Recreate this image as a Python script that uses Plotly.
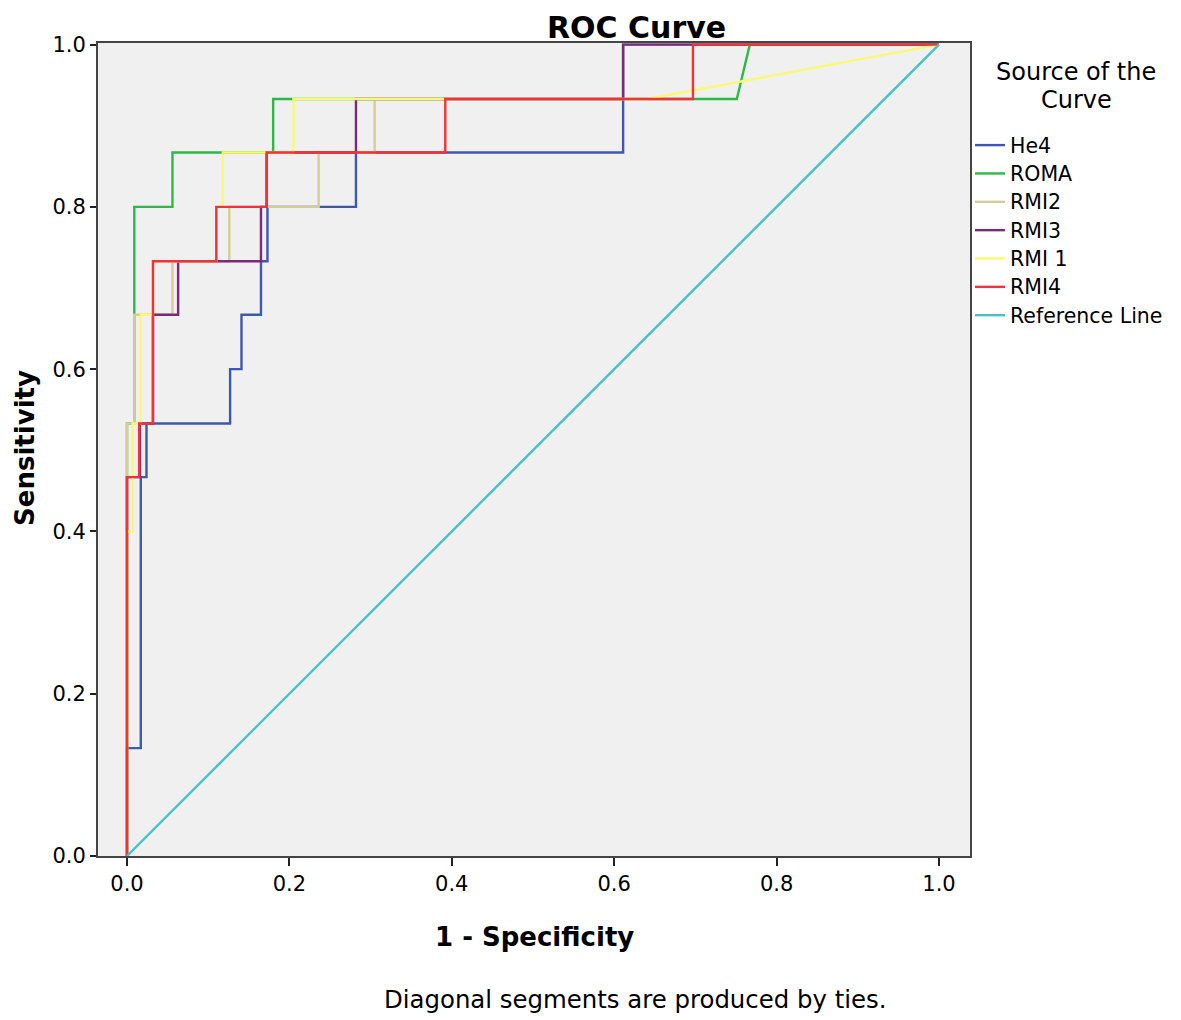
import plotly.graph_objects as go

# ROC step curves (1 - specificity, sensitivity)
he4_x = [0, 0, 0.017, 0.017, 0.024, 0.024, 0.127, 0.127, 0.141, 0.141, 0.165, 0.165, 0.173, 0.173, 0.282, 0.282, 0.611, 0.611, 1]
he4_y = [0, 0.133, 0.133, 0.467, 0.467, 0.533, 0.533, 0.6, 0.6, 0.667, 0.667, 0.733, 0.733, 0.8, 0.8, 0.867, 0.867, 1, 1]

roma_x = [0, 0, 0.009, 0.009, 0.056, 0.056, 0.180, 0.180, 0.751, 0.767, 1]
roma_y = [0, 0.533, 0.533, 0.8, 0.8, 0.867, 0.867, 0.933, 0.933, 1, 1]

rmi2_x = [0, 0, 0.009, 0.009, 0.056, 0.056, 0.126, 0.126, 0.236, 0.236, 0.305, 0.305, 0.611, 0.611, 1]
rmi2_y = [0, 0.533, 0.533, 0.667, 0.667, 0.733, 0.733, 0.8, 0.8, 0.867, 0.867, 0.933, 0.933, 1, 1]

rmi3_x = [0, 0, 0.016, 0.016, 0.032, 0.032, 0.063, 0.063, 0.165, 0.165, 0.172, 0.172, 0.282, 0.282, 0.611, 0.611, 1]
rmi3_y = [0, 0.467, 0.467, 0.533, 0.533, 0.667, 0.667, 0.733, 0.733, 0.8, 0.8, 0.867, 0.867, 0.933, 0.933, 1, 1]

rmi1_x = [0, 0, 0.007, 0.007, 0.017, 0.017, 0.032, 0.032, 0.110, 0.110, 0.118, 0.118, 0.205, 0.205, 0.640, 1]
rmi1_y = [0, 0.4, 0.4, 0.533, 0.533, 0.667, 0.667, 0.733, 0.733, 0.8, 0.8, 0.867, 0.867, 0.933, 0.933, 1]

rmi4_x = [0, 0, 0.015, 0.015, 0.032, 0.032, 0.110, 0.110, 0.172, 0.172, 0.392, 0.392, 0.697, 0.697, 1]
rmi4_y = [0, 0.467, 0.467, 0.533, 0.533, 0.733, 0.733, 0.8, 0.8, 0.867, 0.867, 0.933, 0.933, 1, 1]

ref_x = [0, 1]
ref_y = [0, 1]

names = ["He4", "ROMA", "RMI2", "RMI3", "RMI 1", "RMI4", "Reference Line"]
colors = ["#3e58ac", "#2eb848", "#d3ce97", "#7c287d", "#fbf873", "#ef3338", "#48c2c5"]
curves = [(he4_x, he4_y), (roma_x, roma_y), (rmi2_x, rmi2_y), (rmi3_x, rmi3_y),
          (rmi1_x, rmi1_y), (rmi4_x, rmi4_y), (ref_x, ref_y)]
ticks = [0, 0.2, 0.4, 0.6, 0.8, 1.0]

FONT = "DejaVu Sans, Liberation Sans, sans-serif"

fig = go.Figure()
for name, col, (xs, ys) in zip(names, colors, curves):
    # bigger text inside a smaller legend font keeps the rows tight like the original
    fig.add_trace(go.Scatter(x=xs, y=ys, mode="lines",
                             name=f'<span style="font-size:20.5px">{name}</span>',
                             line=dict(color=col, width=2.4)))

# page body has an 8px margin, so the figure is 8px smaller than the window
fig.update_layout(
    width=1173, height=1012,
    margin=dict(l=90, r=211, t=35, b=164),
    paper_bgcolor="white", plot_bgcolor="#f0f0f0",
    font=dict(family=FONT, size=21, color="black"),
    legend=dict(x=1.0, xanchor="left", y=0.898, yanchor="top",
                font=dict(size=19.5), bgcolor="rgba(0,0,0,0)",
                itemwidth=30, tracegroupgap=0),
    showlegend=True,
)
fig.update_xaxes(range=[-0.0357, 1.0382], tickvals=ticks,
                 tickformat=".1f", ticks="outside", ticklen=8, tickwidth=2, tickcolor="#222",
                 showline=True, linecolor="#444", linewidth=2, mirror=True,
                 showgrid=False, zeroline=False, tickfont=dict(size=21))
fig.update_yaxes(range=[0, 1.002], tickvals=ticks,
                 tickformat=".1f", ticks="outside", ticklen=6, tickwidth=2, tickcolor="#222",
                 showline=True, linecolor="#444", linewidth=2, mirror=True,
                 showgrid=False, zeroline=False, tickfont=dict(size=21))

ann = [
    dict(text="<b>1 - Specificity</b>", x=0.5, y=-0.0996, size=26),
    dict(text="Diagonal segments are produced by ties.", x=0.616, y=-0.177, size=24.4),
    dict(text="Source of the", x=1.1216, y=0.964, size=24),
    dict(text="Curve", x=1.1216, y=0.930, size=24),
]
for a in ann:
    fig.add_annotation(text=a["text"], x=a["x"], y=a["y"], xref="paper", yref="paper",
                       xanchor="center", yanchor="middle", showarrow=False, align="center",
                       font=dict(family=FONT, size=a["size"], color="black"))
fig.add_annotation(text="<b>ROC Curve</b>", x=0.617, y=1.043, xref="paper", yref="paper",
                   xanchor="center", yanchor="top", showarrow=False,
                   font=dict(family=FONT, size=30, color="black"))
fig.add_annotation(text="<b>Sensitivity</b>", x=-0.1032, y=0.502, xref="paper", yref="paper",
                   textangle=-90, xanchor="left", yanchor="middle", showarrow=False,
                   font=dict(family=FONT, size=26, color="black"))

fig.write_html("out.html")
